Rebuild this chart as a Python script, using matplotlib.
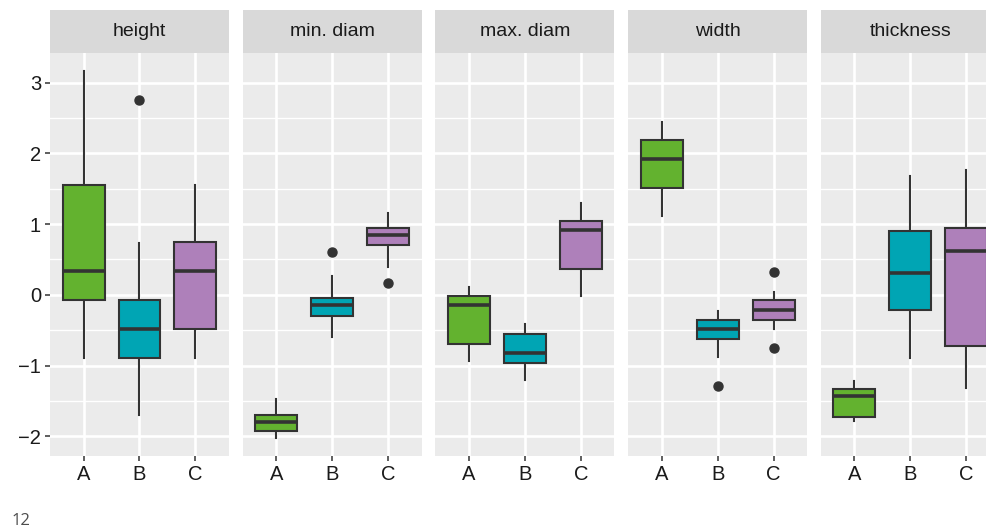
import matplotlib
matplotlib.use("Agg")
import matplotlib.pyplot as plt
from matplotlib.ticker import MultipleLocator

plt.rcParams["font.family"] = ["Liberation Sans", "DejaVu Sans"]

# facet variables and groups
variables = ["height", "min. diam", "max. diam", "width", "thickness"]
groups = ["A", "B", "C"]

# box statistics per facet, one value per group (A, B, C)
whisk_hi = [[3.16, 0.73, 1.55], [-1.48, 0.27, 1.15], [0.11, -0.42, 1.30], [2.45, -0.23, 0.04], [-1.22, 1.68, 1.77]]
q3 = [[1.55, -0.08, 0.74], [-1.70, -0.05, 0.94], [-0.01, -0.55, 1.05], [2.19, -0.35, -0.08], [-1.33, 0.90, 0.94]]
median = [[0.34, -0.48, 0.34], [-1.80, -0.15, 0.84], [-0.15, -0.82, 0.92], [1.92, -0.48, -0.22], [-1.43, 0.31, 0.62]]
q1 = [[-0.08, -0.89, -0.49], [-1.93, -0.30, 0.71], [-0.69, -0.96, 0.37], [1.51, -0.63, -0.36], [-1.73, -0.21, -0.72]]
whisk_lo = [[-0.89, -1.70, -0.89], [-2.02, -0.60, 0.39], [-0.94, -1.21, -0.01], [1.12, -0.88, -0.48], [-1.78, -0.89, -1.32]]
outliers = [
    [[], [2.76], []],
    [[], [0.61], [0.17]],
    [[], [], []],
    [[], [-1.29], [0.32, -0.75]],
    [[], [], []],
]

fills = ["#63B22F", "#00A5B4", "#AE80BA"]
edge = "#333333"

W, H = 987, 528
fig = plt.figure(figsize=(W / 100, H / 100), dpi=100)

panel_left = 50.0
pitch = 192.7
panel_w = 179.0
top, bottom = 53.0, 456.0
strip_top = 10.0

for i, var in enumerate(variables):
    x0 = panel_left + i * pitch
    ax = fig.add_axes([x0 / W, (H - bottom) / H, panel_w / W, (bottom - top) / H])
    ax.set_facecolor("#EBEBEB")
    for s in ax.spines.values():
        s.set_visible(False)

    stats = []
    for j, g in enumerate(groups):
        stats.append(dict(label=g, med=median[i][j], q1=q1[i][j], q3=q3[i][j],
                          whislo=whisk_lo[i][j], whishi=whisk_hi[i][j],
                          fliers=outliers[i][j]))
    bp = ax.bxp(stats, positions=[1, 2, 3], widths=0.75, patch_artist=True,
                showcaps=False,
                boxprops=dict(edgecolor=edge, linewidth=1.5),
                whiskerprops=dict(color=edge, linewidth=1.5),
                medianprops=dict(color=edge, linewidth=2.6, solid_capstyle="butt"),
                flierprops=dict(marker="o", markerfacecolor=edge, markeredgecolor=edge,
                                markersize=6.5))
    for patch, c in zip(bp["boxes"], fills):
        patch.set_facecolor(c)
    for w in bp["whiskers"]:
        w.set_zorder(1.5)

    ax.set_xlim(0.4, 3.6)
    ax.set_ylim(-2.28, 3.42)
    ax.yaxis.set_major_locator(MultipleLocator(1))
    ax.yaxis.set_minor_locator(MultipleLocator(0.5))
    ax.grid(True, which="major", color="white", linewidth=1.9)
    ax.grid(True, which="minor", axis="y", color="white", linewidth=0.95)
    ax.set_axisbelow(True)
    ax.tick_params(axis="x", length=3.5, width=1.1, color=edge, labelsize=14.5,
                   labelcolor="#1A1A1A", pad=3)
    ax.tick_params(axis="y", which="major", length=3.5, width=1.1, color=edge,
                   labelsize=14.5, labelcolor="#1A1A1A", pad=3)
    ax.tick_params(axis="y", which="minor", length=0)
    ax.set_xticks([1, 2, 3])
    ax.set_xticklabels(groups)
    if i == 0:
        ax.set_yticklabels([f"{v:g}".replace("-", "\u2212") for v in ax.get_yticks()])
    else:
        ax.tick_params(axis="y", which="major", length=0, labelleft=False)

    sax = fig.add_axes([x0 / W, (H - top) / H, panel_w / W, (top - strip_top) / H])
    sax.set_facecolor("#D9D9D9")
    sax.set_xticks([])
    sax.set_yticks([])
    for s in sax.spines.values():
        s.set_visible(False)
    sax.text(0.5, 0.5, var, ha="center", va="center", fontsize=14,
             color="#1A1A1A", transform=sax.transAxes)

fig.text(12 / W, (H - 525) / H, "12", ha="left", va="baseline", fontsize=12,
         color="#4D4D4D", family=["Open Sans", "DejaVu Sans"])

fig.savefig("out.png", dpi=100)
